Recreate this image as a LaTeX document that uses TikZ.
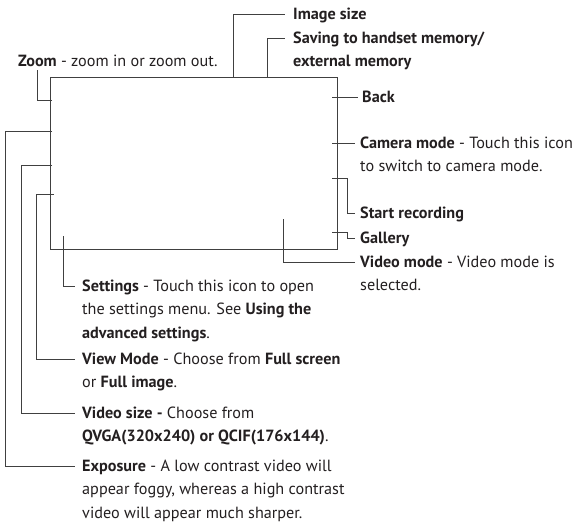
\documentclass[tikz,border=0pt]{standalone}
\usepackage{fontspec}
\setmainfont{PT Sans}
\usepackage{xcolor}
\usetikzlibrary{positioning}

\definecolor{txt}{HTML}{231F20}
\definecolor{ln}{HTML}{404040}

\begin{document}
\begin{tikzpicture}[
  x=1pt, y=-1pt,
  font=\fontsize{16.2}{23.5}\selectfont,
  lab/.style={anchor=base west, align=left, inner sep=0pt, text=txt},
  lead/.style={draw=ln, line width=1pt}]
\useasboundingbox (0,0) rectangle (581,525);

% screen outline
\coordinate (scrTL) at (50,77);
\coordinate (scrBR) at (337,249);
\draw[lead] (scrTL) rectangle (scrBR);

% top and right labels (base = last line)
\node[lab] (zoom) at (18,66) {\textbf{Zoom} - zoom in or zoom out.};
\node[lab] (img) at (293,19) {\textbf{Image size}};
\node[lab] (save) at (293,66.5) {\textbf{Saving to handset memory/}\\
  \textbf{external memory}};
\node[lab] (back) at (362,102) {\textbf{Back}};
\node[lab] (cam) at (360,171.5) {\textbf{Camera mode} - Touch this icon\\
  to switch to camera mode.};
\node[lab] (start) at (360,218) {\textbf{Start recording}};
\node[lab] (gal) at (360,243) {\textbf{Gallery}};
\node[lab] (vmode) at (360,290.5) {\textbf{Video mode} - Video mode is\\
  selected.};

% bottom left labels
\node[lab] (set) at (82,338) {\textbf{Settings} - Touch this icon to open\\
  the settings menu. See \textbf{Using the}\\
  \textbf{advanced settings}.};
\node[lab] (view) at (82,387.5) {\textbf{View Mode} - Choose from \textbf{Full screen}\\
  or \textbf{Full image}.};
\node[lab] (vsize) at (82,441.5) {\textbf{Video size -} Choose from\\
  \textbf{QVGA(320x240) or QCIF(176x144)}.};
\node[lab] (expo) at (82,518) {\textbf{Exposure} - A low contrast video will\\
  appear foggy, whereas a high contrast\\
  video will appear much sharper.};

% leader ends on the screen
\coordinate (zoomT) at (52,100);
\coordinate (imgT) at (233,77);
\coordinate (saveT) at (267,77);
\coordinate (backT) at (332,97);
\coordinate (camT) at (332,143);
\coordinate (startT) at (332,178);
\coordinate (startC) at (347,178);
\coordinate (galT) at (332,232);
\coordinate (galC) at (347,232);
\coordinate (vmodeT) at (283,219);
\coordinate (setT) at (63,236);
\coordinate (viewT) at (54,194);
\coordinate (viewC) at (36,194);
\coordinate (vsizeT) at (52,165);
\coordinate (vsizeC) at (21,165);
\coordinate (expoT) at (52,131);
\coordinate (expoC) at (5,131);

% leaders
\draw[lead] ([xshift=19pt,yshift=-4pt]zoom.base west) |- (zoomT);
\draw[lead] (imgT) |- ([xshift=-8pt,yshift=5pt]img.base west);
\draw[lead] (saveT) |- ([xshift=-8pt,yshift=28.5pt]save.base west);
\draw[lead] (backT) -- ([xshift=-4pt,yshift=5pt]back.base west);
\draw[lead] (camT) -- ([xshift=-5pt,yshift=28.5pt]cam.base west);
\draw[lead] (startT) -- (startC) |- ([xshift=-5pt,yshift=5pt]start.base west);
\draw[lead] (galT) -- (galC) |- ([xshift=-5pt,yshift=5pt]gal.base west);
\draw[lead] (vmodeT) |- ([xshift=-5pt,yshift=28.5pt]vmode.base west);
\draw[lead] (setT) |- ([xshift=-7pt,yshift=52pt]set.base west);
\draw[lead] (viewT) -- (viewC) |- ([xshift=-7pt,yshift=28.5pt]view.base west);
\draw[lead] (vsizeT) -- (vsizeC) |- ([xshift=-7pt,yshift=28.5pt]vsize.base west);
\draw[lead] (expoT) -- (expoC) |- ([xshift=-7pt,yshift=52pt]expo.base west);
\end{tikzpicture}
\end{document}
